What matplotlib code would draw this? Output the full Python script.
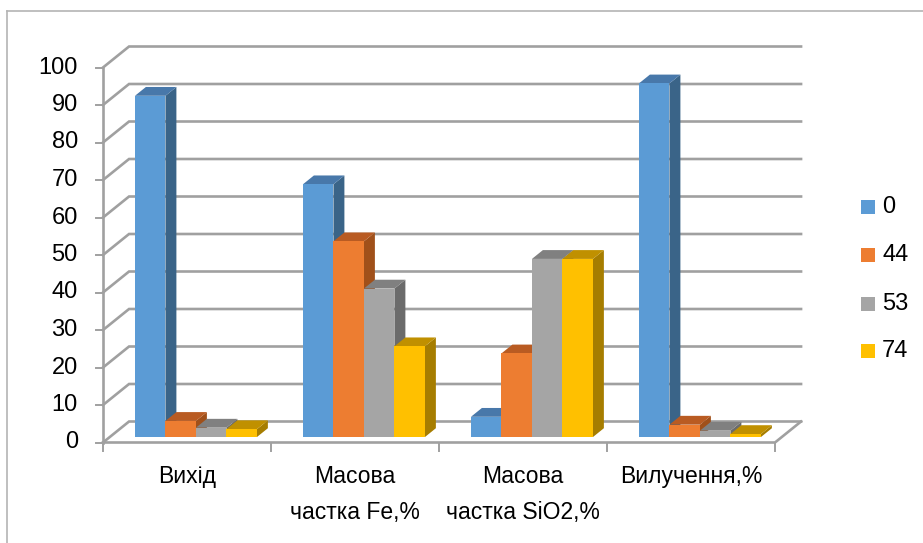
import matplotlib
matplotlib.use('Agg')
import matplotlib.pyplot as plt
from matplotlib.patches import Polygon, Rectangle
from matplotlib.lines import Line2D

# data
categories = ['Вихід', 'Масова\nчастка Fe,%', 'Масова\nчастка SiO2,%', 'Вилучення,%']
series_names = ['0', '44', '53', '74']
vals_0 = [91.0, 67.4, 5.4, 94.3]
vals_44 = [4.3, 52.2, 22.3, 3.3]
vals_53 = [2.5, 39.6, 47.5, 1.7]
vals_74 = [2.1, 24.2, 47.5, 0.8]
y_ticks = list(range(0, 101, 10))

series_vals = [vals_0, vals_44, vals_53, vals_74]
front_cols = ['#5B9BD5', '#ED7D31', '#A5A5A5', '#FFC000']
top_cols = ['#4878AA', '#B95B22', '#808080', '#C09000']
side_cols = ['#3A6488', '#A0501A', '#6B6B6B', '#A67D00']

# oblique depth of the walls (x in category units, y in value units)
wall_dx, wall_dy = 0.155, 5.6
bar_d0, bar_d1 = 0.26, 0.68   # bar front / back depth as fraction of wall depth
bar_w = 0.1815
grp_off = 0.15
grid_col = '#A0A0A0'
font = 'Liberation Sans'

fig = plt.figure(figsize=(9.23, 5.43), dpi=100)
ax = fig.add_axes([0, 0, 1, 1])
ax.set_xlim(-103 / 168, (923 - 103) / 168)
ax.set_ylim(-(543 - 442.5) / 3.75, 442.5 / 3.75)
ax.axis('off')

n_cat = len(categories)

# back wall gridlines + left wall diagonals
for v in y_ticks:
    ax.plot([0, wall_dx, n_cat + wall_dx], [v, v + wall_dy, v + wall_dy],
            color=grid_col, lw=1.9, solid_joinstyle='miter', zorder=1)
    # y tick
    ax.plot([-0.042, 0], [v, v], color=grid_col, lw=1.4, zorder=1)
    ax.text(-0.15, v, str(v), ha='right', va='center', fontsize=17,
            family=font, color='#000000')

# front axis, floor
ax.plot([0, 0], [0, 100], color=grid_col, lw=1.9, zorder=1)
ax.plot([0, n_cat, n_cat + wall_dx], [0, 0, wall_dy], color=grid_col, lw=1.9, zorder=1)
for i in range(n_cat + 1):
    ax.plot([i, i], [0, -2.3], color=grid_col, lw=1.4, zorder=1)

# 3d bars, drawn left to right
fdx, fdy = bar_d0 * wall_dx, bar_d0 * wall_dy
ddx, ddy = (bar_d1 - bar_d0) * wall_dx, (bar_d1 - bar_d0) * wall_dy
z = 3
for i in range(n_cat):
    for j, vals in enumerate(series_vals):
        x0 = i + grp_off + j * bar_w + fdx
        x1 = x0 + bar_w
        b = fdy
        t = fdy + vals[i]
        side = Polygon([(x1, b), (x1 + ddx, b + ddy), (x1 + ddx, t + ddy), (x1, t)],
                       closed=True, fc=side_cols[j], ec='none', zorder=z)
        top = Polygon([(x0, t), (x0 + ddx, t + ddy), (x1 + ddx, t + ddy), (x1, t)],
                      closed=True, fc=top_cols[j], ec='none', zorder=z)
        front = Rectangle((x0, b), bar_w, vals[i], fc=front_cols[j], ec='none', zorder=z)
        ax.add_patch(side)
        ax.add_patch(top)
        ax.add_patch(front)
        z += 1

# category labels
for i, name in enumerate(categories):
    ax.text(i + 0.5, -6.0, name, ha='center', va='top', fontsize=16.5,
            family=font, linespacing=1.75)

# legend
leg_y = [62.8, 50.0, 36.9, 24.4]
for j, name in enumerate(series_names):
    ax.add_patch(Rectangle((4.512, leg_y[j] - 1.87), 0.0833, 3.73,
                           fc=front_cols[j], ec='none'))
    ax.text(4.637, leg_y[j], name, ha='left', va='center', fontsize=17,
            family=font)

# chart border
fig.add_artist(Line2D([6.5 / 923, 6.5 / 923], [0, 1 - 11 / 543],
                      transform=fig.transFigure, color='#B4B4B4', lw=1.2))
fig.add_artist(Line2D([6.5 / 923, 1], [1 - 11 / 543, 1 - 11 / 543],
                      transform=fig.transFigure, color='#B4B4B4', lw=1.2))

fig.savefig('out.png', dpi=100)
